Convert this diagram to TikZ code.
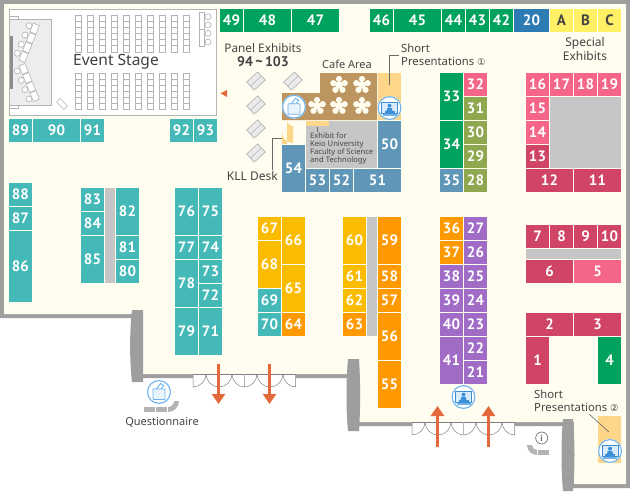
\documentclass[tikz,border=0pt]{standalone}
\usepackage{fontspec}
\setmainfont{Noto Sans}
\newfontfamily\din{PT Sans}
\newfontfamily\sym{DejaVu Sans}
\usetikzlibrary{arrows.meta,calc}
\definecolor{cream}{HTML}{FFFDF0}
\definecolor{wallc}{HTML}{9E9E9E}
\definecolor{teal}{HTML}{45B9B8}
\definecolor{grn}{HTML}{00A35E}
\definecolor{blu}{HTML}{2C7BB2}
\definecolor{yel}{HTML}{FFF066}
\definecolor{org}{HTML}{FF9900}
\definecolor{amb}{HTML}{FBBC00}
\definecolor{pur}{HTML}{A06CC6}
\definecolor{pnk}{HTML}{F56588}
\definecolor{crm}{HTML}{D04466}
\definecolor{olv}{HTML}{8FA84F}
\definecolor{stl}{HTML}{6096B7}
\definecolor{lgr}{HTML}{C6C6C6}
\definecolor{brn}{HTML}{BD9560}
\definecolor{lor}{HTML}{FDD68A}
\definecolor{arr}{HTML}{E4693A}
\definecolor{icn}{HTML}{6DB3EF}
\definecolor{icd}{HTML}{3A8FD8}
\definecolor{txt}{HTML}{444444}
\definecolor{sg}{HTML}{B4B4B4}
\tikzset{
  x=1pt,y=-1pt,
  boothbox/.style={inner sep=0pt,outer sep=0pt,text=white,font=\din\bfseries\fontsize{15}{15}\selectfont},
  lbl/.style={inner sep=0pt,text=txt,font=\fontsize{11.3}{13}\selectfont,align=center},
  seat/.style={draw=sg,fill=white,line width=.65pt},
  leader/.style={draw=txt!80,line width=.6pt},
  exit/.style={draw=arr,line width=3pt,-{Triangle[width=13pt,length=10pt]}},
  door/.style={draw=black!50,line width=.5pt},
  wallp/.style={fill=wallc,draw=none},
  panelx/.style={draw=sg,fill=black!8,line width=.7pt},
}
% label / x1 / y1 / x2 / y2 with colour
\newcommand{\boothset}[2]{%
  \foreach \l/\xa/\ya/\xb/\yb in {#2}{%
    \node[boothbox,fill=#1,minimum width={(\xb-\xa)*1pt},minimum height={(\yb-\ya)*1pt}]
      (b\l) at ({(\xa+\xb)/2},{(\ya+\yb)/2}) {\l};}}
\newcommand{\presicon}[1]{%
  \begin{scope}[shift={(#1)}]
    \fill[white] (0,0) circle (12);
    \draw[icn,line width=1.1pt] (0,0) circle (11.4);
    \draw[icd,fill=icn!25,line width=.8pt] (-8,-6) rectangle (8,5.5);
    \fill[icd] (0,-2.3) circle (2);
    \fill[icd] (-3,3) -- (-2.4,.2) -- (2.4,.2) -- (3,3) -- cycle;
    \fill[icd] (-5,3) rectangle (5,5);
    \fill[icd!70] (-7,6.3) rectangle (7,8);
  \end{scope}}
\newcommand{\voteicon}[1]{%
  \begin{scope}[shift={(#1)}]
    \fill[white] (0,0) circle (12);
    \draw[icn,line width=1.1pt] (0,0) circle (11.4);
    \draw[icn,fill=white,line width=.9pt] (-2.5,-3) -- (1.5,-8.5) -- (4.5,-6.5) -- (1.5,-2) -- cycle;
    \draw[icn,fill=icn!15,line width=.9pt,rounded corners=.8pt] (-6,-3) rectangle (6,7.5);
  \end{scope}}
\newcommand{\flower}[1]{%
  \begin{scope}[shift={(#1)}]
    \fill[cream] (0,0) circle (3.8);
    \foreach \k in {0,...,4}{\fill[cream] (270+72*\k:6) circle (3.1);}
  \end{scope}}
\begin{document}
\begin{tikzpicture}
\useasboundingbox (0,0) rectangle (630,491);
\fill[white] (0,0) rectangle (630,491);
% walls and floor
\fill[wallc] (0,0) -- (630,0) -- (630,488) -- (568,488) -- (568,426) -- (354,426) -- (354,378) -- (137,378) -- (137,318) -- (0,318) -- cycle;
\fill[cream] (4,4) -- (626,4) -- (626,484) -- (574,484) -- (574,422) -- (354,422) -- (354,374) -- (137,374) -- (137,314) -- (4,314) -- cycle;
\fill[white] (193,374) rectangle (295.5,379);
\fill[white] (412,422) rectangle (514.5,427);
\path[wallp] (132,310) -- (143,310) -- (143,382) -- (132,382) .. controls (129.5,360) and (129.5,332) .. (132,310) -- cycle;
\path[wallp] (348,359) -- (359,359) .. controls (360.5,380) and (360.5,410) .. (359,431) -- (348,431) .. controls (346,410) and (346,380) .. (348,359) -- cycle;
\path[wallp] (563,419) -- (573,419) .. controls (575,440) and (575,470) .. (573,491) -- (563,491) .. controls (561,470) and (561,440) .. (563,419) -- cycle;
% event stage
\draw[draw=sg,fill=white,line width=.8pt] (9.5,9.5) rectangle (216,115.5);
\draw[seat] (9.5,16) rectangle (18.5,19);
\draw[seat] (9.5,105.5) rectangle (18.5,108.5);
\draw[draw=sg,fill=black!7,line width=.8pt] (9.5,19) rectangle (51.5,105.5);
\fill[black!45] (10,36) rectangle (13,89);
\foreach \k in {0,...,9}{
  \foreach \r in {0,...,5}{
    \draw[seat] ({75.3+12*\k},{15+6.15*\r}) rectangle ++(5.8,6.15);
    \draw[seat] ({75.3+12*\k},{73.5+6*\r}) rectangle ++(5.8,6);
  }}
\node[lbl,font=\fontsize{15.5}{16}\selectfont,text=black!75] (evs) at (116,62) {Event Stage};
\coordinate (ta) at (36.5,24); \coordinate (tb) at (21.8,61.5);
\coordinate (tc) at (21.8,64.5); \coordinate (td) at (36.5,100.5);
\foreach \s/\e in {0/.25,.25/.5,.5/.75,.75/1}{
  \draw[draw=sg,line width=7pt] ($(ta)!\s!(tb)$) -- ($(ta)!\e!(tb)$);
  \draw[draw=white,line width=5.6pt] ($(ta)!\s+.02!(tb)$) -- ($(ta)!\e-.02!(tb)$);
  \draw[draw=sg,line width=7pt] ($(tc)!\s!(td)$) -- ($(tc)!\e!(td)$);
  \draw[draw=white,line width=5.6pt] ($(tc)!\s+.02!(td)$) -- ($(tc)!\e-.02!(td)$);
}
\foreach \cx/\cy in {29/25.7,25/35,21.3/44.3,17.3/53.3,17.3/71,21.3/80.3,25/89.7,29/99}{
  \draw[seat] (\cx,\cy) circle (3);}
\draw[seat] (199.5,12.5) rectangle (204.8,46.5);
\draw[draw=sg,line width=.7pt] (199.5,29.5) -- (204.8,29.5);
\foreach \cy in {16.7,25,33.3,42}{\draw[seat] (208,\cy) circle (3);}
\draw[seat] (56.5,102) -- (60,98.5) -- (67.5,106) -- (64,109.5) -- cycle;
% booths
\boothset{grn}{49/220/9/243/32,48/244/9/291/32,47/292/9/339/32,46/370/9/393/32,45/394/9/441/32,44/442/9/465/32,43/466/9/489/32,42/490/9/513/32,33/440/73/463/120,34/440/121/463/168,4/598/337/621/384}
\boothset{blu}{20/514/9/549/32}
\foreach \l/\xa in {A/550,B/574,C/598}{
  \node[boothbox,fill=yel,text=txt,minimum width=23pt,minimum height=23pt] (b\l) at (\xa+11.5,20.5) {\l};}
\boothset{teal}{89/9/119/32/142,90/33/119/80/142,91/81/119/104/142,92/170/119/193/142,93/194/119/217/142,88/9/183/32/206,87/9/207/32/230,86/9/231/32/302,83/81/188/104/211,84/81/212/104/235,85/81/236/104/283,82/116/188/139/235,81/116/236/139/259,80/116/260/139/283,76/175/188/198/235,77/175/236/198/259,78/175/260/198/307,79/175/308/198/355,75/199/188/222/235,74/199/236/222/259,73/199/260/222/283,72/199/284/222/307,71/199/308/222/355,69/258/289/281/312,70/258/313/281/336}
\boothset{amb}{67/258/217/281/240,68/258/241/281/288,66/282/217/305/264,65/282/265/305/312,60/343/217/366/264,61/343/265/366/288,62/343/289/366/312}
\boothset{org}{64/282/313/305/336,63/343/313/366/336,59/378/217/401/264,58/378/265/401/288,57/378/289/401/312,56/378/313/401/360,55/378/361/401/408,36/440/217/463/240,37/440/241/463/264}
\boothset{pur}{38/440/265/463/288,39/440/289/463/312,40/440/313/463/336,41/440/337/463/384,27/464/217/487/240,26/464/241/487/264,25/464/265/487/288,24/464/289/487/312,23/464/313/487/336,22/464/337/487/360,21/464/361/487/384}
\boothset{olv}{31/464/97/487/120,30/464/121/487/144,29/464/145/487/168,28/464/169/487/192}
\boothset{stl}{35/440/169/463/192,54/282/145/305/192,53/306/169/329/192,52/330/169/353/192,51/354/169/401/192,50/378/121/401/168}
\boothset{pnk}{32/464/73/487/96,16/526/73/549/96,17/550/73/573/96,18/574/73/597/96,19/598/73/621/96,15/526/97/549/120,14/526/121/549/144,5/574/260/621/283}
\boothset{crm}{13/526/145/549/168,12/526/169/573/192,11/574/169/621/192,7/526/225/549/248,8/550/225/573/248,9/574/225/597/248,10/598/225/621/248,6/526/260/573/283,2/526/313/573/336,3/574/313/621/336,1/526/337/549/384}
% grey blocks
\fill[lgr] (105,188) rectangle (115,283);
\fill[lgr] (367,217) rectangle (377,336);
\fill[lgr] (550,97) rectangle (621,168);
\fill[lgr] (526,249) rectangle (621,259);
\fill[lgr] (306,121) rectangle (377,168);
\node[inner sep=0pt,anchor=west,align=left,text=txt,font=\fontsize{7.6}{8.1}\selectfont] (keio) at (310,148.5) {Exhibit for\\Keio University\\Faculty of Science\\and Technology};
% cafe area
\fill[brn] (320,73) -- (377,73) -- (377,120) -- (282,120) -- (282,93) -- (320,93) -- cycle;
\fill[lor] (378,73) rectangle (401,120);
\flower{339,85}
\flower{362,85}
\flower{317,106}
\flower{339,106}
\flower{362,106}
% KLL desk pieces
\fill[lor] (306,121) rectangle (329,126);
\fill[lor] (282,144) -- (282,132) arc[start angle=180,end angle=90,radius=11] -- (293,126) arc[start angle=90,end angle=180,radius=6] -- (287,144) -- cycle;
% panel boards
\foreach \px/\py in {256/81,293/81,256/105,256/129,256/153}{
  \draw[panelx] (\px-9.3,\py+1) -- (\px+1.6,\py-9) -- (\px+9.3,\py-1) -- (\px-1.6,\py+9) -- cycle;
  \draw[draw=sg,line width=.6pt] (\px-5.4,\py+5) -- (\px+5.4,\py-5);
}
\fill[arr] (220.5,93.3) -- (227,90) -- (227,97) -- cycle;
% doors
\foreach \o/\yy in {193/374,412/422}{
  \begin{scope}[shift={(\o,\yy)}]
    \draw[door] (0,0) -- (102.5,0);
    \draw[door] (0,0) -- (0,13) .. controls (7,13) and (13,7) .. (13,0);
    \draw[door] (13,0) .. controls (13,7) and (19,13) .. (26,13) .. controls (33,13) and (39,7) .. (39,0);
    \draw[door] (39,0) .. controls (39,7) and (45,13) .. (51.3,13) .. controls (58,13) and (64,7) .. (64,0);
    \draw[door] (64,0) .. controls (64,7) and (70,13) .. (77,13) .. controls (84,13) and (90,7) .. (90,0);
    \draw[door] (90,0) .. controls (90,7) and (96,13) .. (102.5,13) -- (102.5,0);
    \draw[door,draw=sg] (51.3,0) -- (51.3,13);
  \end{scope}}
\coordinate (e1a) at (218.5,364); \coordinate (e1b) at (218.5,404);
\coordinate (e2a) at (269.5,364); \coordinate (e2b) at (269.5,404);
\coordinate (e3a) at (437.5,447); \coordinate (e3b) at (437.5,406);
\coordinate (e4a) at (488.5,447); \coordinate (e4b) at (488.5,406);
\draw[exit] (e1a) -- (e1b);
\draw[exit] (e2a) -- (e2b);
\draw[exit] (e3a) -- (e3b);
\draw[exit] (e4a) -- (e4b);
% lower right presentation
\fill[lor] (598,416) rectangle (621,463);
% leaders
\coordinate (l1a) at (389,85); \coordinate (l1b) at (389,55); \coordinate (l1c) at (399,55);
\draw[leader] (l1a) -- (l1b) -- (l1c);
\coordinate (l2a) at (272,170); \coordinate (l2b) at (272,138); \coordinate (l2c) at (282,138);
\draw[leader] (l2a) -- (l2b) -- (l2c);
\coordinate (l3a) at (317,127); \coordinate (l3b) at (317,132);
\draw[leader] (l3a) -- (l3b);
\coordinate (l4a) at (589,414); \coordinate (l4b) at (609,432);
\draw[leader] (l4a) -- (l4b);
% icons
\voteicon{294,106.7}
\presicon{389.5,108}
\presicon{463.5,397}
\presicon{610,451}
\voteicon{159,392}
\fill[sg] (144,407) rectangle (155,412);
\fill[sg] (156,407) rectangle (167,412);
\fill[sg] (168,412) -- (168,407) arc[start angle=90,end angle=0,radius=6] -- (179,401) arc[start angle=0,end angle=90,radius=11] -- cycle;
\node[draw=black!55,fill=white,circle,line width=.7pt,minimum size=12pt,inner sep=0pt,text=black!60,font=\din\bfseries\fontsize{9}{9}\selectfont] (info) at (541.7,438) {i};
\fill[sg] (538,450) rectangle (549,455);
\fill[sg] (537,455) arc[start angle=90,end angle=180,radius=10] -- (532,445) arc[start angle=180,end angle=90,radius=5] -- cycle;
% labels
\node[lbl,font=\fontsize{11.8}{13}\selectfont] (pe) at (263,48) {Panel Exhibits};
\node[lbl,font=\din\bfseries\fontsize{14}{14}\selectfont] (pn) at (263,62) {94\,\char"007E\,103};
\node[lbl,font=\fontsize{11}{12}\selectfont] (ca) at (347,64) {Cafe Area};
\node[lbl,anchor=west,align=left] (sp1) at (401,55) {Short\\Presentations {\sym\fontsize{9.5}{12}\selectfont ①}};
\node[lbl,anchor=east,font=\fontsize{12}{13}\selectfont] (kll) at (278,176) {KLL Desk};
\node[lbl,font=\fontsize{12}{14}\selectfont] (se) at (585,49) {Special\\Exhibits};
\node[lbl,font=\fontsize{11}{13}\selectfont] (qu) at (162,422) {Questionnaire};
\node[lbl,anchor=west,align=left] (sp2) at (534,401) {Short\\Presentations {\sym\fontsize{9.5}{12}\selectfont ②}};
\end{tikzpicture}
\end{document}
